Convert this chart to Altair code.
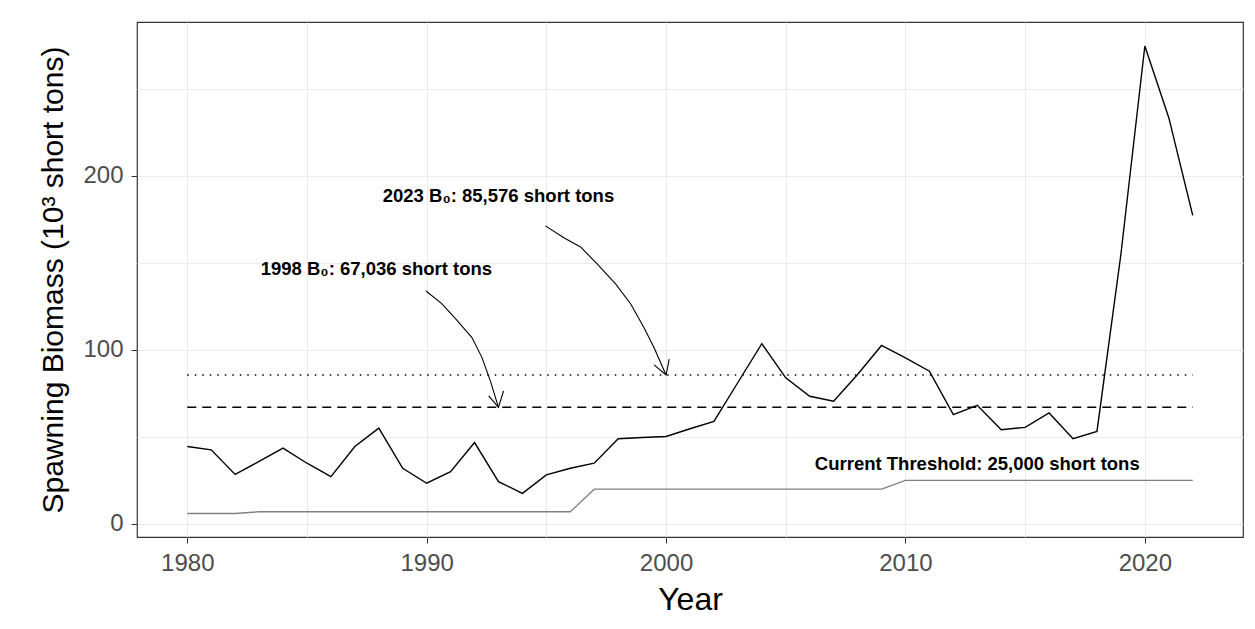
import altair as alt
import pandas as pd

years = list(range(1980, 2023))
biomass = [44.5, 42.6, 28.5, 35.9, 43.6, 34.9, 27.2, 44.5, 55.1, 32.0, 23.4, 30.1,
           46.8, 24.3, 17.6, 28.2, 32.0, 34.9, 49.0, 49.7, 50.3, 54.7, 59.0, 81.3,
           103.6, 84.0, 73.4, 70.5, 85.9, 102.6, 95.5, 87.8, 62.8, 68.2, 54.2, 55.5,
           63.8, 49.0, 53.2, 155.0, 274.7, 233.5, 177.4]
threshold = [6.0, 6.0, 6.0] + [7.0] * 14 + [20.0] * 13 + [25.0] * 13

b0_1998 = 67.036
b0_2023 = 85.576

# annotation arrows (year, value)
arrow1_x = [1989.97, 1990.63, 1991.26, 1991.89, 1992.31, 1992.66, 1993.0]
arrow1_y = [133.9, 126.6, 117.1, 107.1, 95.6, 82.2, 67.0]
arrow1_barb_x = [1992.59, 1993.0, 1993.21]
arrow1_barb_y = [73.6, 67.0, 76.4]
arrow2_x = [1994.96, 1995.73, 1996.43, 1997.13, 1997.90, 1998.53, 1999.08, 1999.50, 2000.0]
arrow2_y = [171.3, 164.5, 159.2, 149.3, 137.8, 126.3, 112.8, 101.3, 85.6]
arrow2_barb_x = [1999.50, 2000.0, 2000.13]
arrow2_barb_y = [91.4, 85.6, 94.7]

label_text = ["2023 B\u2080: 85,576 short tons", "1998 B\u2080: 67,036 short tons",
              "Current Threshold: 25,000 short tons"]
label_x = [1993.0, 1987.9, 2013.0]
label_y = [188.5, 146.6, 34.5]

XDOM = [1977.9, 2024.1]
YDOM = [-7.5, 288.5]

df = pd.DataFrame({"Year": years, "Biomass": biomass, "Threshold": threshold})

xaxis = alt.Axis(
    values=list(range(1980, 2021, 5)), format="d", title="Year",
    labelExpr="datum.value % 10 === 0 ? datum.label : ''",
    tickColor={"condition": {"test": "datum.value % 10 === 0", "value": "#333333"}, "value": "transparent"},
    gridColor="#EBEBEB", grid=True, domain=False, tickSize=6, labelPadding=8,
    labelFontSize=24, labelColor="#4D4D4D", labelFont="Liberation Sans",
    titleFontSize=32, titleFont="Liberation Sans", titleFontWeight="normal", titleColor="black",
    titlePadding=9)
yaxis = alt.Axis(
    values=[0, 50, 100, 150, 200, 250], title="Spawning Biomass (10\u00b3 short tons)",
    labelExpr="datum.value % 100 === 0 ? datum.label : ''",
    tickColor={"condition": {"test": "datum.value % 100 === 0", "value": "#333333"}, "value": "transparent"},
    gridColor="#EBEBEB", grid=True, domain=False, tickSize=6, labelPadding=8,
    labelFontSize=24, labelColor="#4D4D4D", labelFont="Liberation Sans",
    titleFontSize=30, titleFont="Liberation Sans", titleFontWeight="normal", titleColor="black",
    titlePadding=14)

xs = alt.Scale(domain=XDOM, nice=False, zero=False)
ys = alt.Scale(domain=YDOM, nice=False, zero=False)

base = alt.Chart(df)

thr = base.mark_line(color="#808080", strokeWidth=1.3).encode(
    x=alt.X("Year:Q", scale=xs, axis=xaxis),
    y=alt.Y("Threshold:Q", scale=ys, axis=yaxis))
main = base.mark_line(color="black", strokeWidth=1.4).encode(
    x=alt.X("Year:Q", scale=xs), y=alt.Y("Biomass:Q", scale=ys))

hl = pd.DataFrame({"x1": [1980, 1980], "x2": [2022, 2022], "y": [b0_1998, b0_2023], "k": ["dash", "dot"]})
dash = alt.Chart(hl[hl.k == "dash"]).mark_rule(color="black", strokeWidth=1.5, strokeDash=[9, 6]).encode(
    x=alt.X("x1:Q", scale=xs), x2="x2:Q", y=alt.Y("y:Q", scale=ys))
dot = alt.Chart(hl[hl.k == "dot"]).mark_rule(color="black", strokeWidth=1.5, strokeDash=[1.5, 6]).encode(
    x=alt.X("x1:Q", scale=xs), x2="x2:Q", y=alt.Y("y:Q", scale=ys))

def path(xv, yv):
    d = pd.DataFrame({"x": xv, "y": yv, "o": list(range(len(xv)))})
    return alt.Chart(d).mark_line(color="black", strokeWidth=1.1).encode(
        x=alt.X("x:Q", scale=xs), y=alt.Y("y:Q", scale=ys), order="o:O")

arrows = [path(arrow1_x, arrow1_y), path(arrow1_barb_x, arrow1_barb_y),
          path(arrow2_x, arrow2_y), path(arrow2_barb_x, arrow2_barb_y)]

lab = pd.DataFrame({"t": label_text, "x": label_x, "y": label_y})
labels = alt.Chart(lab).mark_text(font="Liberation Sans", fontSize=18.5, fontWeight="bold",
                                  color="black", align="center", baseline="middle").encode(
    x=alt.X("x:Q", scale=xs), y=alt.Y("y:Q", scale=ys), text="t:N")

chart = alt.layer(thr, main, dash, dot, *arrows, labels).properties(
    width=1106, height=515,
    padding={"left": 137, "top": 22, "right": 12, "bottom": 92},
    autosize=alt.AutoSizeParams(type="none"),
    background="white",
).configure_view(stroke="#333333", strokeWidth=1.2)

chart.save("out.html", embed_options={"renderer": "svg", "actions": False})
